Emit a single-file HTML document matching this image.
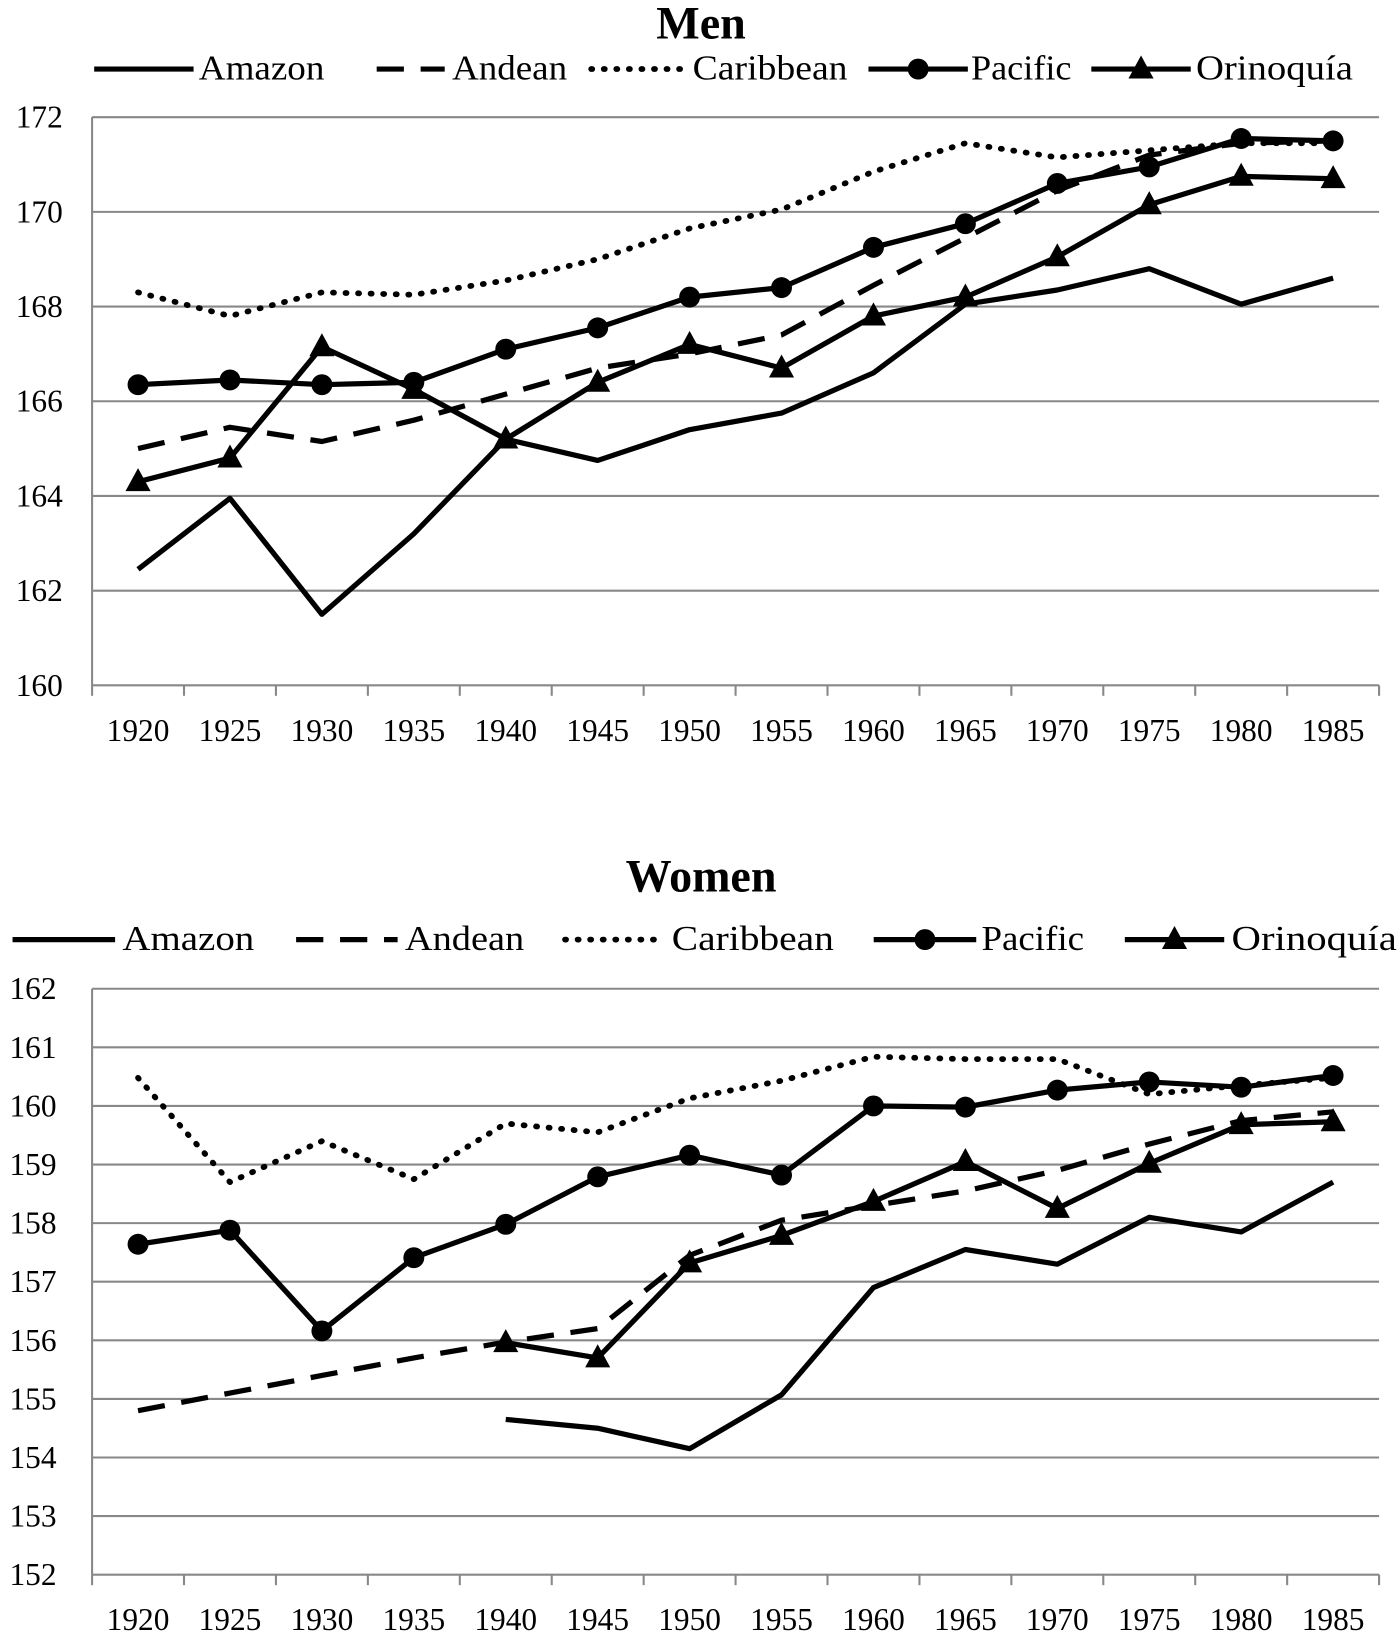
<!DOCTYPE html>
<html><head><meta charset="utf-8"><style>
body{margin:0;background:#fff}
svg{display:block;font-family:"Liberation Serif",serif}
</style></head><body>
<svg id="c" width="1400" height="1638" viewBox="0 0 1338 1565.5" preserveAspectRatio="none"></svg>
<script>
const years=["1920","1925","1930","1935","1940","1945","1950","1955","1960","1965","1970","1975","1980","1985"];
const menAmazon=[162.45,163.95,161.5,163.2,165.2,164.75,165.4,165.75,166.6,168.05,168.35,168.8,168.05,168.6];
const menAndean=[165.0,165.45,165.15,165.6,166.15,166.7,167.0,167.4,168.45,169.45,170.45,171.2,171.45,171.5];
const menCaribbean=[168.3,167.8,168.3,168.25,168.55,169.0,169.65,170.05,170.85,171.45,171.15,171.3,171.45,171.45];
const menPacific=[166.35,166.45,166.35,166.4,167.1,167.55,168.2,168.4,169.25,169.75,170.6,170.95,171.55,171.5];
const menOrinoquia=[164.3,164.8,167.15,166.25,165.2,166.4,167.2,166.7,167.8,168.2,169.05,170.15,170.75,170.7];
const womenAmazon=[null,null,null,null,154.65,154.5,154.15,155.07,156.9,157.55,157.3,158.1,157.85,158.7];
const womenAndean=[154.8,155.1,155.4,155.7,155.97,156.2,157.45,158.05,158.3,158.55,158.9,159.35,159.75,159.9];
const womenCaribbean=[160.48,158.7,159.4,158.75,159.7,159.55,160.13,160.43,160.84,160.8,160.8,160.2,160.35,160.48];
const womenPacific=[157.64,157.88,156.16,157.41,157.98,158.79,159.16,158.82,160.0,159.98,160.27,160.41,160.32,160.52];
const womenOrinoquia=[null,null,null,null,155.96,155.7,157.32,157.79,158.37,159.05,158.25,159.02,159.68,159.73];
const menTicks=[160,162,164,166,168,170,172];
const womenTicks=[152,153,154,155,156,157,158,159,160,161,162];
const seriesNames=["Amazon","Andean","Caribbean","Pacific","Orinoquía"];

const NS="http://www.w3.org/2000/svg";
const svg=document.getElementById('c');
function el(tag,attrs,parent,text){const e=document.createElementNS(NS,tag);for(const k in attrs)e.setAttribute(k,attrs[k]);if(text!==undefined)e.textContent=text;(parent||svg).appendChild(e);return e;}
const styles=[
 {dash:"",marker:null,w:5},
 {dash:"26,16",marker:null,w:5},
 {dash:"1,11",marker:null,w:5.5},
 {dash:"",marker:"circle",w:5},
 {dash:"",marker:"tri",w:5}];
function marker(g,type,x,y){
 if(type==="circle"){const m=el('circle',{cx:x,cy:y,r:10,fill:'#000'},g);}
 else if(type==="tri"){const m=el('polygon',{points:`${x},${y-13} ${x-12},${y+9} ${x+12},${y+9}`,fill:'#000'},g);}
}
function chart(cfg){
 const g=el('g',{});
 
 
 const x0=88,x1=1318,n=years.length,step=(x1-x0)/n;
 const ymin=cfg.ticks[0],ymax=cfg.ticks[cfg.ticks.length-1];
 const X=i=>x0+step*(i+0.5);
 const Y=v=>cfg.yb-(v-ymin)/(ymax-ymin)*(cfg.yb-cfg.yt);
 const t=el('text',{x:670,y:cfg.titleY,'text-anchor':'middle','font-size':44,'font-weight':'bold'},g,cfg.title);
 
 cfg.ticks.forEach(v=>{
  const l=el('line',{x1:x0,x2:x1,y1:Y(v),y2:Y(v),stroke:'#888','stroke-width':2},g);
  
  const tl=el('text',{x:cfg.labelX,y:Y(v)+10,'text-anchor':'end','font-size':30},g,String(v));
  
 });
 const ax=el('line',{x1:x0,x2:x0,y1:cfg.yt,y2:cfg.yb,stroke:'#888','stroke-width':2},g);
 
 for(let i=0;i<=n;i++){const tk=el('line',{x1:x0+step*i,x2:x0+step*i,y1:cfg.yb,y2:cfg.yb+10,stroke:'#888','stroke-width':2},g);}
 years.forEach((yr,i)=>{const tl=el('text',{x:X(i),y:cfg.yb+53,'text-anchor':'middle','font-size':30},g,yr);});
 cfg.data.forEach((d,s)=>{
  const st=styles[s];
  const pts=[];d.forEach((v,i)=>{if(v!==null)pts.push([X(i),Y(v)]);});
  const p=el('polyline',{points:pts.map(p=>p.join(',')).join(' '),fill:'none',stroke:'#000','stroke-width':st.w,'stroke-dasharray':st.dash,'stroke-linejoin':'round','stroke-linecap':st.dash==="1,11"?'round':'butt'},g);
  
  if(st.marker)pts.forEach(q=>marker(g,st.marker,q[0],q[1]));
 });
 cfg.legend.forEach((lg,s)=>{
  const st=styles[s];const lgG=el('g',{},g);
  
  
  el('line',{x1:lg[0],x2:lg[1],y1:cfg.legY,y2:cfg.legY,stroke:'#000','stroke-width':st.w,'stroke-dasharray':st.dash,'stroke-linecap':st.dash==="1,11"?'round':'butt'},lgG);
  if(st.marker)marker(lgG,st.marker,(lg[0]+lg[1])/2,cfg.legY);
  el('text',{x:lg[2],y:cfg.legY+10,'font-size':33,textLength:lg[3],lengthAdjust:'spacingAndGlyphs'},lgG,seriesNames[s]);
 });
}
chart({name:'men-chart',title:'Men',titleY:37,yt:112,yb:655,labelX:60,ticks:menTicks,legY:66,
 data:[menAmazon,menAndean,menCaribbean,menPacific,menOrinoquia],
 legend:[[90,185,190,120],[360,425,432,110],[565,655,662,148],[830,925,928,96],[1043,1138,1143,150]]});
chart({name:'women-chart',title:'Women',titleY:852,yt:945,yb:1505,labelX:54,ticks:womenTicks,legY:898,
 data:[womenAmazon,womenAndean,womenCaribbean,womenPacific,womenOrinoquia],
 legend:[[12,110,117,126],[283,380,387,114],[540,635,642,155],[835,933,938,98],[1075,1170,1177,158]]});
</script>
</body></html>
